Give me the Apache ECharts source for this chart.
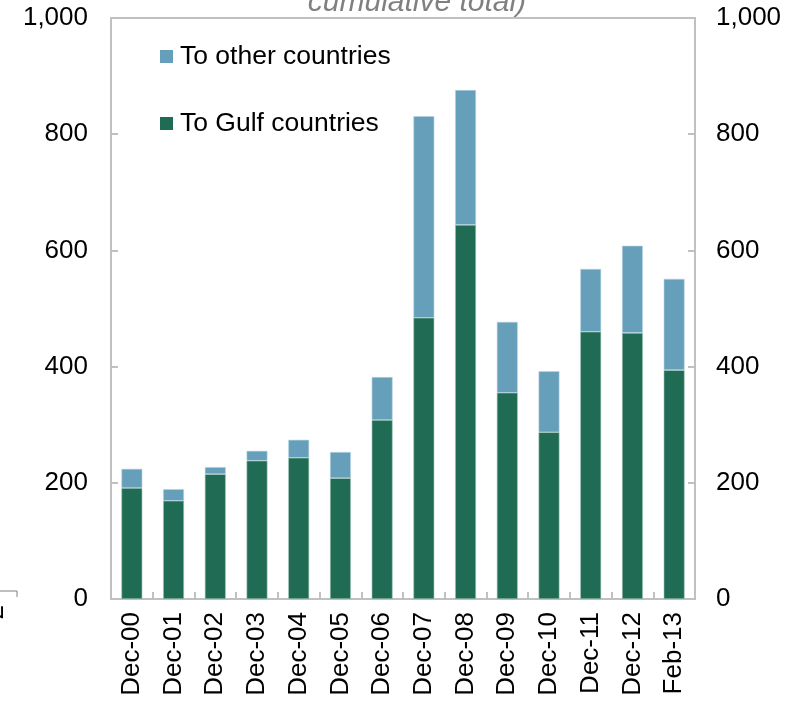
<!DOCTYPE html>
<html>
<head>
<meta charset="utf-8">
<script src="https://cdn.jsdelivr.net/npm/echarts@6/dist/echarts.min.js"></script>
<style>
  html, body { margin: 0; padding: 0; background: #fff; }
  #chart { width: 802px; height: 701px; }
</style>
</head>
<body>
<div id="chart"></div>
<script>
// remittances, cumulative total
const categories = ['Dec-00', 'Dec-01', 'Dec-02', 'Dec-03', 'Dec-04', 'Dec-05', 'Dec-06',
  'Dec-07', 'Dec-08', 'Dec-09', 'Dec-10', 'Dec-11', 'Dec-12', 'Feb-13']
const toGulf = [191, 169, 215, 238, 243, 208, 308, 484, 644, 355, 287, 460, 458, 394]
const toOther = [33, 20, 12, 17, 31, 45, 74, 347, 232, 122, 105, 108, 150, 157]
const yTicks = [0, 200, 400, 600, 800, 1000]

const fmt = v => v.toLocaleString('en-US')
const axisGray = '#c0c0c0'
const font = 'Liberation Sans, Arial, sans-serif'

const yAxisBase = position => ({
  type: 'value',
  position,
  min: yTicks[0],
  max: yTicks[yTicks.length - 1],
  interval: 200,
  axisLine: { show: true, lineStyle: { color: axisGray, width: 2 } },
  axisTick: { show: true, inside: true, length: 7, lineStyle: { color: axisGray, width: 2 } },
  splitLine: { show: false },
  axisLabel: {
    color: '#000',
    fontSize: 26,
    fontFamily: font,
    margin: position === 'left' ? 23 : 21,
    formatter: fmt,
  },
})

const chart = echarts.init(document.getElementById('chart'))
chart.setOption({
  animation: false,
  title: {
    text: 'cumulative total)',
    left: 412,
    textAlign: 'center',
    top: -17,
    textStyle: { color: '#808080', fontStyle: 'italic', fontWeight: 'normal', fontSize: 30, fontFamily: font },
  },
  grid: {
    left: 111,
    right: 107,
    top: 18,
    bottom: 102,
    show: true,
    borderColor: axisGray,
    borderWidth: 2,
  },
  legend: {
    orient: 'vertical',
    left: 155,
    top: 38,
    itemGap: 40,
    itemWidth: 13,
    itemHeight: 13,
    icon: 'rect',
    itemStyle: { borderWidth: 0 },
    textStyle: { color: '#000', fontSize: 26.5, fontFamily: font, padding: [0, 0, 0, 2] },
    data: ['To other countries', 'To Gulf countries'],
  },
  xAxis: {
    type: 'category',
    data: categories,
    axisLine: { show: true, lineStyle: { color: axisGray, width: 2 } },
    axisTick: { show: true, inside: true, length: 7, lineStyle: { color: axisGray, width: 2 } },
    axisLabel: {
      rotate: 90,
      color: '#000',
      fontSize: 26,
      fontFamily: font,
      margin: 13,
    },
  },
  yAxis: [yAxisBase('left'), yAxisBase('right')],
  series: [
    {
      name: 'To Gulf countries',
      type: 'bar',
      stack: 'total',
      barWidth: '50%',
      data: toGulf,
      itemStyle: { color: '#1f6b53', borderColor: '#9fc4b7', borderWidth: 0.6 },
    },
    {
      name: 'To other countries',
      type: 'bar',
      stack: 'total',
      barWidth: '50%',
      data: toOther,
      itemStyle: { color: '#669fba', borderColor: '#b9d4e2', borderWidth: 0.6 },
    },
  ],
  graphic: [
    {
      type: 'polyline',
      shape: { points: [[0, 591], [17, 591], [17, 597]] },
      style: { stroke: '#808080', lineWidth: 1, fill: null },
    },
    {
      type: 'text',
      x: 9,
      y: 605,
      rotation: Math.PI / 2,
      style: { text: '2', fill: '#000', font: '26px ' + font, textAlign: 'right', textVerticalAlign: 'bottom' },
    },
  ],
})
</script>
</body>
</html>
